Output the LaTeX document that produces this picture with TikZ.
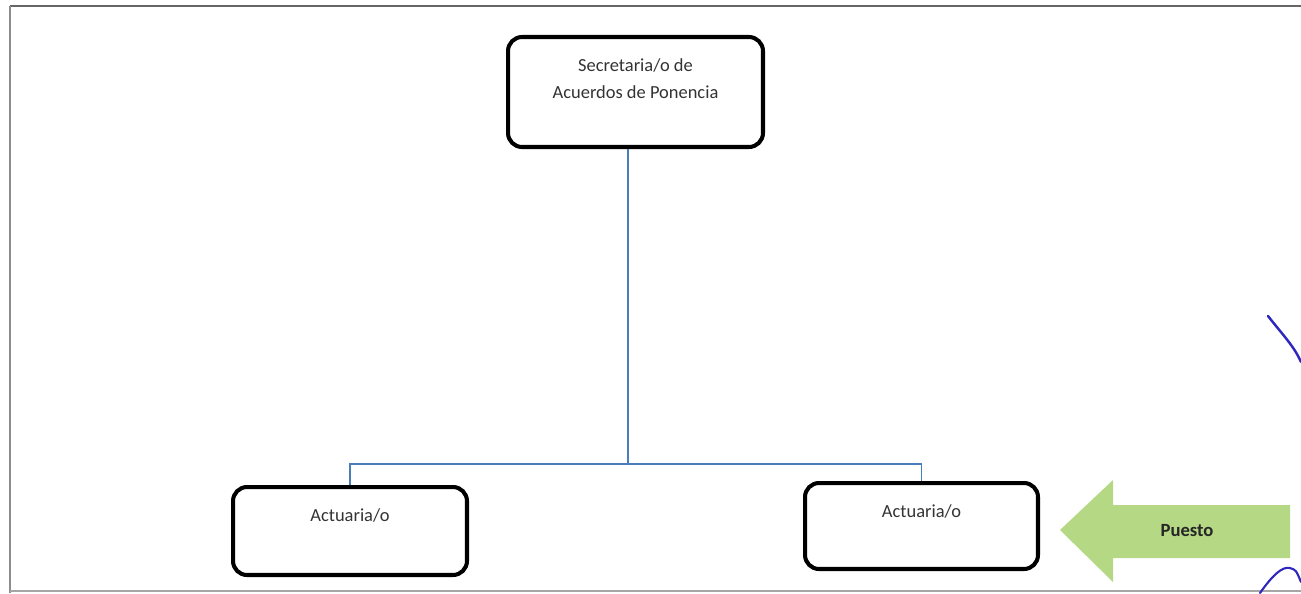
\documentclass[tikz,border=0pt]{standalone}
\usepackage{fontspec}
\setmainfont{Carlito}
\usetikzlibrary{positioning}
\definecolor{lineablue}{RGB}{74,126,187}
\definecolor{verdepuesto}{RGB}{181,216,133}
\definecolor{tinta}{RGB}{48,40,190}
\begin{document}
\begin{tikzpicture}[x=0.02cm,y=-0.02cm,
        caja/.style={draw=black, line width=2.3pt, rounded corners=0.28cm, fill=white},
        etiq/.style={anchor=north, font=\fontsize{10.5}{15.4}\selectfont, text=black!80, align=center, inner sep=0pt},
        conector/.style={draw=lineablue, line width=1.1pt}]
        \useasboundingbox (0,0) rectangle (1301,593);
        % marco de la hoja
        \draw[line width=1.2pt, color=black!60] (10,6) -- (1301,6);
        \draw[line width=1.2pt, color=black!45] (10,6) -- (10,593);
        \draw[line width=0.8pt, color=black!35] (10,591) -- (1301,591);
        % puestos
        \node[caja, minimum width=5.1cm, minimum height=2.2cm] (sec) at (635.5,92) {};
        \node[etiq] (sectxt) at ([yshift=-0.46cm]sec.north) {Secretaria/o de\\Acuerdos de Ponencia};
        \node[caja, minimum width=4.68cm, minimum height=1.76cm] (act1) at (350,531) {};
        \node[etiq] (act1txt) at ([yshift=-0.46cm]act1.north) {Actuaria/o};
        \node[caja, minimum width=4.66cm, minimum height=1.72cm] (act2) at (921.5,526) {};
        \node[etiq] (act2txt) at ([yshift=-0.46cm]act2.north) {Actuaria/o};
        % lineas de mando
        \coordinate (bus) at (628,464);
        \draw[conector] (sec.south -| bus) -- (bus);
        \draw[conector] (act1.north) |- (bus) -| (act2.north);
        % flecha
        \fill[verdepuesto] (1060,530) -- (1113,480) -- (1113,505) -- (1290,505)
            -- (1290,558) -- (1113,558) -- (1113,582) -- cycle;
        \node[font=\fontsize{10.6}{12}\selectfont\bfseries, text=black!85] (puesto) at (1187,531) {Puesto};
        % rubrica
        \draw[tinta, line width=1.4pt, line cap=round] (1268,316) .. controls (1282,334) and (1294,346) .. (1301,362);
        \draw[tinta, line width=1.2pt, line cap=round] (1260,593) .. controls (1272,576) and (1282,566) .. (1290,568) .. controls (1296,570) .. (1301,582);
\end{tikzpicture}
\end{document}
